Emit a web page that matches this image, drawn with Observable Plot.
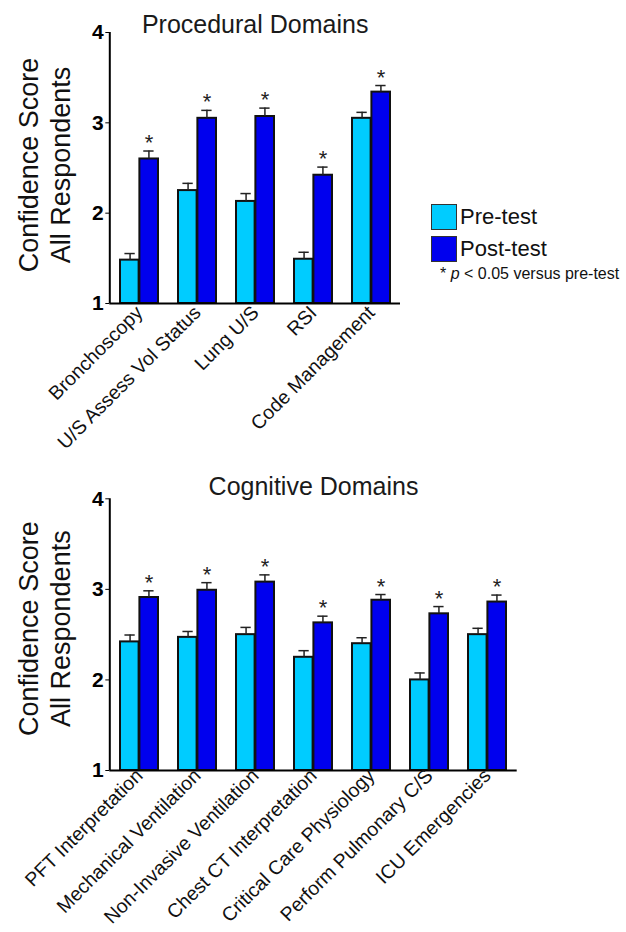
<!DOCTYPE html>
<html><head><meta charset="utf-8">
<script src="https://cdn.jsdelivr.net/npm/d3@7"></script>
<script src="https://cdn.jsdelivr.net/npm/@observablehq/plot@0.6"></script>
<style>
body{margin:0;background:#fff;font-family:"Liberation Sans",Arial,sans-serif;}
#wrap{position:relative;width:626px;height:932px;overflow:hidden;background:#fff;}
#wrap svg{position:absolute;left:0;}
g[aria-label="y-axis tick label"] text{font-weight:bold;}
.legend{position:absolute;left:431px;top:203px;color:#111;}
.legend .row{display:flex;align-items:center;height:27px;margin-bottom:5px;font-size:22px;}
.legend .sw{display:inline-block;width:24px;height:24px;border:1.5px solid #333;margin-right:3px;}
.note{position:absolute;left:440px;top:266px;font-size:16px;line-height:16px;color:#111;white-space:nowrap;}
</style></head><body><div id="wrap"></div>
<script>
// ---- data ----
const seriesNames = ["Pre-test", "Post-test"];
const seriesColors = ["#00CCFF", "#0000EE"];
const yTicks = [1, 2, 3, 4];
const yLabel = "Confidence Score\nAll Respondents";

const procTitle = "Procedural Domains";
const procCategories = ["Bronchoscopy", "U/S Assess Vol Status", "Lung U/S", "RSI", "Code Management"];
const procPre = [1.48, 2.25, 2.13, 1.49, 3.05];
const procPreErr = [0.073, 0.08, 0.087, 0.077, 0.066];
const procPost = [2.60, 3.05, 3.07, 2.42, 3.34];
const procPostErr = [0.088, 0.088, 0.093, 0.09, 0.073];

const cogTitle = "Cognitive Domains";
const cogCategories = ["PFT Interpretation", "Mechanical Ventilation", "Non-Invasive Ventilation", "Chest CT Interpretation", "Critical Care Physiology", "Perform Pulmonary C/S", "ICU Emergencies"];
const cogPre = [2.42, 2.47, 2.50, 2.25, 2.40, 2.00, 2.50];
const cogPreErr = [0.076, 0.065, 0.08, 0.073, 0.066, 0.077, 0.07];
const cogPost = [2.91, 2.99, 3.08, 2.63, 2.88, 2.73, 2.86];
const cogPostErr = [0.074, 0.084, 0.08, 0.074, 0.063, 0.08, 0.077];

function chart({categories, pre, preErr, post, postErr, title, width, height, mt, mb, ml, mr, titleDy, labelDy, tickPad}) {
  const preRows = categories.map((c, i) => ({cat: c, series: seriesNames[0], value: pre[i], err: preErr[i]}));
  const postRows = categories.map((c, i) => ({cat: c, series: seriesNames[1], value: post[i], err: postErr[i]}));
  const pi = 0.352, po = 0.176;
  const innerW = width - ml - mr;
  const step = innerW / (categories.length - pi + 2 * po);
  const bw = step * (1 - pi);
  const half = bw / 2;
  const off = bw / 4;
  const capHalf = 5;
  const errStyle = {stroke: "#222", strokeWidth: 1.5};
  const barStyle = {stroke: "#111", strokeWidth: 2};
  return Plot.plot({
    width, height,
    marginTop: mt, marginBottom: mb, marginLeft: ml, marginRight: mr,
    style: {fontFamily: "Liberation Sans, Arial, sans-serif", color: "#000", background: "transparent", overflow: "visible"},
    x: {domain: categories, paddingInner: pi, paddingOuter: po, align: 0.5},
    y: {domain: [1, 4]},
    marks: [
      Plot.barY(preRows, {x: "cat", y1: 1, y2: "value", fill: seriesColors[0], insetRight: half + 0.55, ...barStyle}),
      Plot.barY(postRows, {x: "cat", y1: 1, y2: "value", fill: seriesColors[1], insetLeft: half + 0.55, ...barStyle}),
      Plot.ruleX(preRows, {x: "cat", y1: "value", y2: d => d.value + d.err, dx: -off, ...errStyle}),
      Plot.ruleX(postRows, {x: "cat", y1: "value", y2: d => d.value + d.err, dx: off, ...errStyle}),
      Plot.tickY(preRows, {x: "cat", y: d => d.value + d.err, insetLeft: bw / 4 - capHalf, insetRight: 3 * bw / 4 - capHalf, ...errStyle}),
      Plot.tickY(postRows, {x: "cat", y: d => d.value + d.err, insetLeft: 3 * bw / 4 - capHalf, insetRight: bw / 4 - capHalf, ...errStyle}),
      Plot.text(postRows, {x: "cat", y: d => d.value + d.err, text: () => "*", dx: off, dy: -1, lineAnchor: "bottom", fontSize: 22, fill: "#222"}),
      Plot.ruleY([1], {stroke: "#000", strokeWidth: 2}),
      Plot.ruleX([0], {x: null, dx: -innerW / 2, stroke: "#000", strokeWidth: 2}),
      Plot.axisY({ticks: yTicks, tickSize: 4, tickPadding: 2, fontSize: 21, fontWeight: "bold", tickFormat: d3.format("d"), label: null}),
      Plot.axisX({tickSize: 0, tickRotate: -45, tickPadding: tickPad, fontSize: 19.5, label: null, fill: "#111"}),
      Plot.text([yLabel], {text: d => d, frameAnchor: "left", rotate: -90, textAnchor: "middle", lineAnchor: "top", dx: 14 - ml, dy: labelDy, fontSize: 27, lineHeight: 1.2, fill: "#111"}),
      Plot.text([title], {text: d => d, frameAnchor: "top", lineAnchor: "bottom", dy: titleDy, fontSize: 25, fill: "#1a1a1a"})
    ]
  });
}

const wrap = document.getElementById("wrap");
const top1 = chart({categories: procCategories, pre: procPre, preErr: procPreErr, post: procPost, postErr: procPostErr,
  title: procTitle, width: 626, height: 460, mt: 32, mb: 157, ml: 109.3, mr: 226, titleDy: 0, labelDy: -3, tickPad: 6});
top1.style.top = "0px";
wrap.appendChild(top1);
const bot = chart({categories: cogCategories, pre: cogPre, preErr: cogPreErr, post: cogPost, postErr: cogPostErr,
  title: cogTitle, width: 626, height: 472, mt: 38.3, mb: 162, ml: 109.3, mr: 109.3, titleDy: -4, labelDy: -6, tickPad: 2});
bot.style.top = "460px";
wrap.appendChild(bot);

// legend
const legend = document.createElement("div");
legend.className = "legend";
seriesNames.forEach((name, i) => {
  const row = document.createElement("div");
  row.className = "row";
  const sw = document.createElement("span");
  sw.className = "sw";
  sw.style.background = seriesColors[i];
  const lab = document.createElement("span");
  lab.textContent = name;
  row.appendChild(sw); row.appendChild(lab);
  legend.appendChild(row);
});
wrap.appendChild(legend);
const note = document.createElement("div");
note.className = "note";
note.innerHTML = "* <i>p</i> &lt; 0.05 versus pre-test";
wrap.appendChild(note);
</script>
</body></html>
